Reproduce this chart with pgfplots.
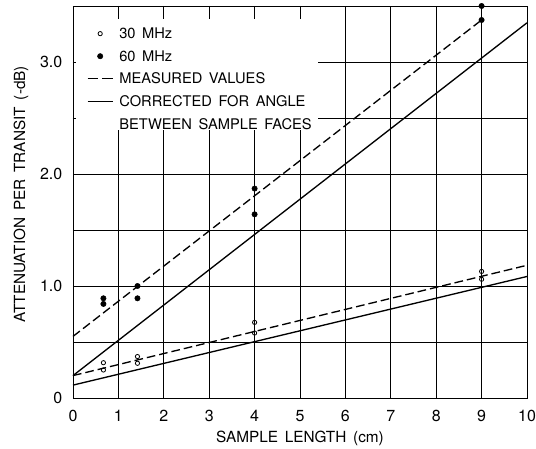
\documentclass[border=0pt]{standalone}
\usepackage{fontspec}
\setmainfont{TeX Gyre Heros}[WordSpace={1.6}]
\usepackage{pgfplots}
\pgfplotsset{compat=1.18}
\newcommand{\lbl}{\fontsize{11.5}{13}\selectfont}
\newcommand{\tck}{\fontsize{12}{14}\selectfont}
\newcommand{\leg}{\fontsize{11}{13}\selectfont}
\begin{document}
\begin{tikzpicture}
\begin{axis}[
  scale only axis, width=340.5pt, height=294pt,
  xmin=0, xmax=10, ymin=0, ymax=3.5,
  clip=false,
  xtick={0,1,...,10},
  ytick={0,0.5,...,3.5},
  yticklabels={0,,1.0,,2.0,,3.0,},
  grid=major,
  major grid style={black, line width=0.5pt},
  axis line style={black, line width=0.7pt},
  major tick length=0pt,
  tick label style={font=\tck},
  /pgf/number format/assume math mode=true,
  xticklabel style={yshift=-5.5pt},
  yticklabel style={xshift=-4.5pt},
  xlabel={SAMPLE LENGTH (cm)},
  ylabel={ATTENUATION PER TRANSIT (-dB)},
  xlabel style={at={(axis description cs:0.5,-0.1148)}, anchor=base, font=\lbl},
  ylabel style={at={(axis description cs:-0.1057,0.52)}, anchor=base, font=\lbl},
  legend style={at={(axis cs:0.308,3.30)}, anchor=north west, draw=none, fill=none,
    inner sep=0pt, outer sep=0pt, row sep=9pt, column sep=4.5pt, font=\leg,
    nodes={inner sep=0pt, text height=7.9pt, text depth=0pt, font=\leg}},
  legend cell align=left,
]
% blank the grid behind the legend
\fill[white] (axis cs:0.02,2.39) rectangle (axis cs:5.40,3.38);
% short tick stubs remaining in the blank area
\draw[line width=0.5pt] (axis cs:1,3.5) -- (axis cs:1,3.38);
\draw[line width=0.5pt] (axis cs:2,3.5) -- (axis cs:2,3.38);
\draw[line width=0.5pt] (axis cs:3,3.5) -- (axis cs:3,3.38);
\draw[line width=0.5pt] (axis cs:4,3.5) -- (axis cs:4,3.42);
\draw[line width=0.5pt] (axis cs:5,3.5) -- (axis cs:5,3.38);
\draw[line width=0.5pt] (axis cs:0,3.0) -- (axis cs:0.07,3.0);
\draw[line width=0.5pt] (axis cs:0,2.5) -- (axis cs:0.07,2.5);

\addlegendimage{legend image code/.code={\draw[line width=0.6pt] plot[mark=o, mark size=1.6pt] coordinates {(9.4pt,0pt)};}}
\addlegendentry{\leg 30 MHz}
\addlegendimage{legend image code/.code={\fill plot[mark=*, mark size=2pt] coordinates {(9.4pt,0pt)};}}
\addlegendentry{\leg 60 MHz}
\addlegendimage{legend image code/.code={\draw[line width=1pt, dash pattern=on 8pt off 2.75pt] (0pt,0pt) -- (18.75pt,0pt);}}
\addlegendentry{\leg MEASURED VALUES}
\addlegendimage{legend image code/.code={\draw[line width=1pt] (0pt,0pt) -- (18.75pt,0pt);}}
\addlegendentry{\leg CORRECTED FOR ANGLE}
\addlegendimage{empty legend}
\addlegendentry{\leg BETWEEN SAMPLE FACES}

% 60 MHz measured (dashed)
\addplot[forget plot, black, line width=1pt, dash pattern=on 6.5pt off 3pt] coordinates {(0,0.55) (9,3.375)};
% 60 MHz corrected (solid)
\addplot[forget plot, black, line width=1pt] coordinates {(0,0.20) (10,3.35)};
% 30 MHz measured (dashed)
\addplot[forget plot, black, line width=1pt, dash pattern=on 6.5pt off 3pt] coordinates {(0,0.20) (10,1.185)};
% 30 MHz corrected (solid)
\addplot[forget plot, black, line width=1pt] coordinates {(0,0.115) (10,1.085)};

% 30 MHz data (open circles)
\addplot[forget plot, only marks, mark=o, mark size=1.6pt, mark options={line width=0.6pt, fill=white}, draw=black]
  coordinates {(0.67,0.315) (0.67,0.25) (1.42,0.37) (1.42,0.31) (4,0.675) (4,0.58) (9,1.13) (9,1.06)};
% 60 MHz data (filled circles)
\addplot[forget plot, only marks, mark=*, mark size=2pt, black]
  coordinates {(0.67,0.89) (0.67,0.84) (1.42,1.0) (1.42,0.89) (4,1.87) (4,1.64) (9,3.5) (9,3.375)};
\end{axis}
\pgfresetboundingbox
\path[use as bounding box] ([xshift=-54.75pt,yshift=-38.25pt]current axis.south west) rectangle ([xshift=6.75pt,yshift=4.5pt]current axis.north east);
\end{tikzpicture}
\end{document}
